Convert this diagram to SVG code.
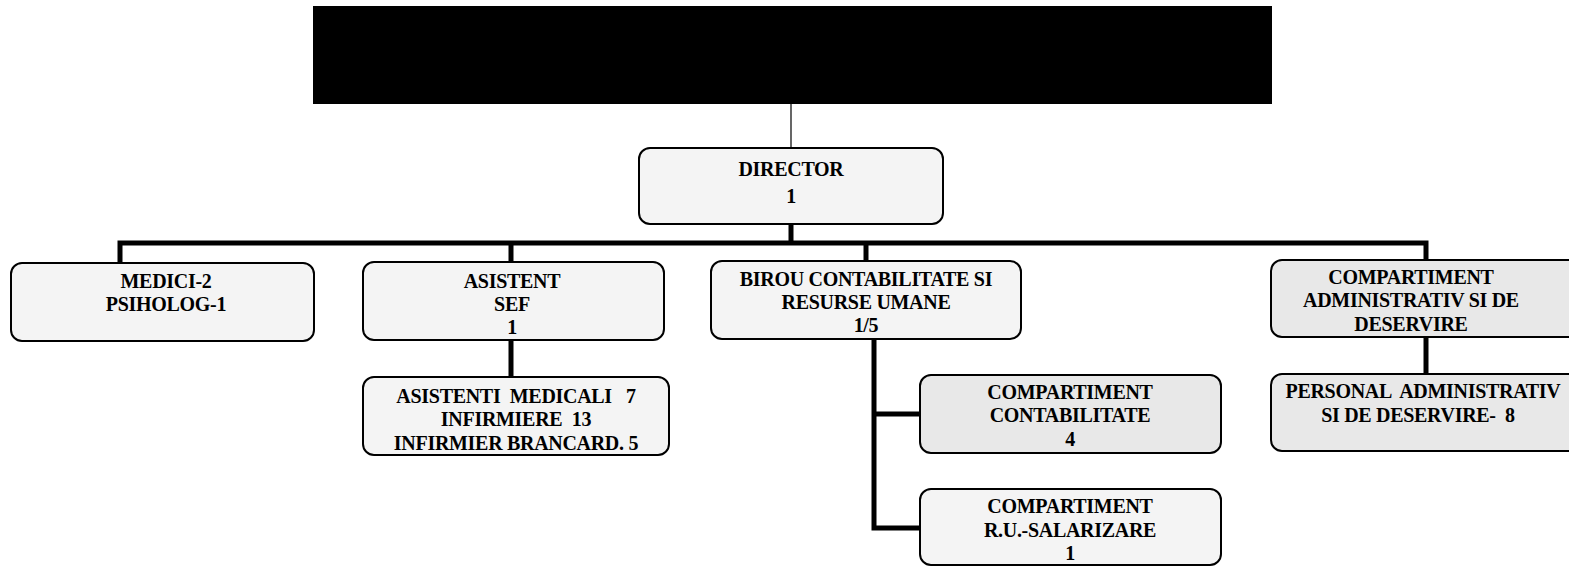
<svg xmlns="http://www.w3.org/2000/svg" width="1569" height="566" viewBox="0 0 1569 566">
<style>
.box{fill:#f4f4f4;stroke:#000;stroke-width:2}
.dark{fill:#e8e8e8}
.t{font-family:"Liberation Serif","Times New Roman",serif;font-size:20px;font-weight:bold;fill:#000;text-anchor:middle;letter-spacing:-0.3px;white-space:pre}
.thick{stroke:#000;stroke-width:5;fill:none}
.thin{stroke:#000;stroke-width:1.2;fill:none}
</style>
<rect width="1569" height="566" fill="#fff"/>
<g id="header"><rect x="313" y="6" width="959" height="98" fill="#000"/></g>
<g id="connectors">
<line class="thin" x1="791" y1="104" x2="791" y2="148"/>
<line class="thick" x1="791" y1="224" x2="791" y2="243"/>
<polyline class="thick" points="120,263 120,243 1426,243 1426,260"/>
<line class="thick" x1="511" y1="243" x2="511" y2="262"/>
<line class="thick" x1="866" y1="243" x2="866" y2="261"/>
<line class="thick" x1="511" y1="340" x2="511" y2="377"/>
<polyline class="thick" points="874,339 874,528 920,528"/>
<line class="thick" x1="874" y1="414" x2="920" y2="414"/>
<line class="thick" x1="1426" y1="337" x2="1426" y2="374"/>
</g>
<g id="director"><rect class="box" x="639" y="148" width="304" height="76" rx="11"/>
<text class="t" x="791" y="176">DIRECTOR</text><text class="t" x="791" y="203">1</text></g>
<g id="medici"><rect class="box" x="11" y="263" width="303" height="78" rx="11"/>
<text class="t" x="166" y="288">MEDICI-2</text><text class="t" x="166" y="311">PSIHOLOG-1</text></g>
<g id="asistent-sef"><rect class="box" x="363" y="262" width="301" height="78" rx="11"/>
<text class="t" x="512" y="288">ASISTENT</text><text class="t" x="512" y="311">SEF</text><text class="t" x="512" y="334">1</text></g>
<g id="asistenti"><rect class="box" x="363" y="377" width="306" height="78" rx="11"/>
<text class="t" x="516" y="403" xml:space="preserve">ASISTENTI  MEDICALI   7</text><text class="t" x="516" y="426" xml:space="preserve">INFIRMIERE  13</text><text class="t" x="516" y="450">INFIRMIER BRANCARD. 5</text></g>
<g id="birou"><rect class="box" x="711" y="261" width="310" height="78" rx="11"/>
<text class="t" x="866" y="286">BIROU CONTABILITATE SI</text><text class="t" x="866" y="309">RESURSE UMANE</text><text class="t" x="866" y="332">1/5</text></g>
<g id="contabilitate"><rect class="box dark" x="920" y="375" width="301" height="78" rx="11"/>
<text class="t" x="1070" y="399">COMPARTIMENT</text><text class="t" x="1070" y="422">CONTABILITATE</text><text class="t" x="1070" y="446">4</text></g>
<g id="ru-salarizare"><rect class="box" x="920" y="489" width="301" height="76" rx="11"/>
<text class="t" x="1070" y="513">COMPARTIMENT</text><text class="t" x="1070" y="537">R.U.-SALARIZARE</text><text class="t" x="1070" y="560">1</text></g>
<g id="comp-admin"><rect class="box dark" x="1271" y="260" width="310" height="77" rx="11"/>
<text class="t" x="1411" y="284">COMPARTIMENT</text><text class="t" x="1411" y="307">ADMINISTRATIV SI DE</text><text class="t" x="1411" y="331">DESERVIRE</text></g>
<g id="personal"><rect class="box dark" x="1271" y="374" width="310" height="77" rx="11"/>
<text class="t" x="1423" y="398" xml:space="preserve">PERSONAL  ADMINISTRATIV</text><text class="t" x="1418" y="422" xml:space="preserve">SI DE DESERVIRE-  8</text></g>
</svg>
